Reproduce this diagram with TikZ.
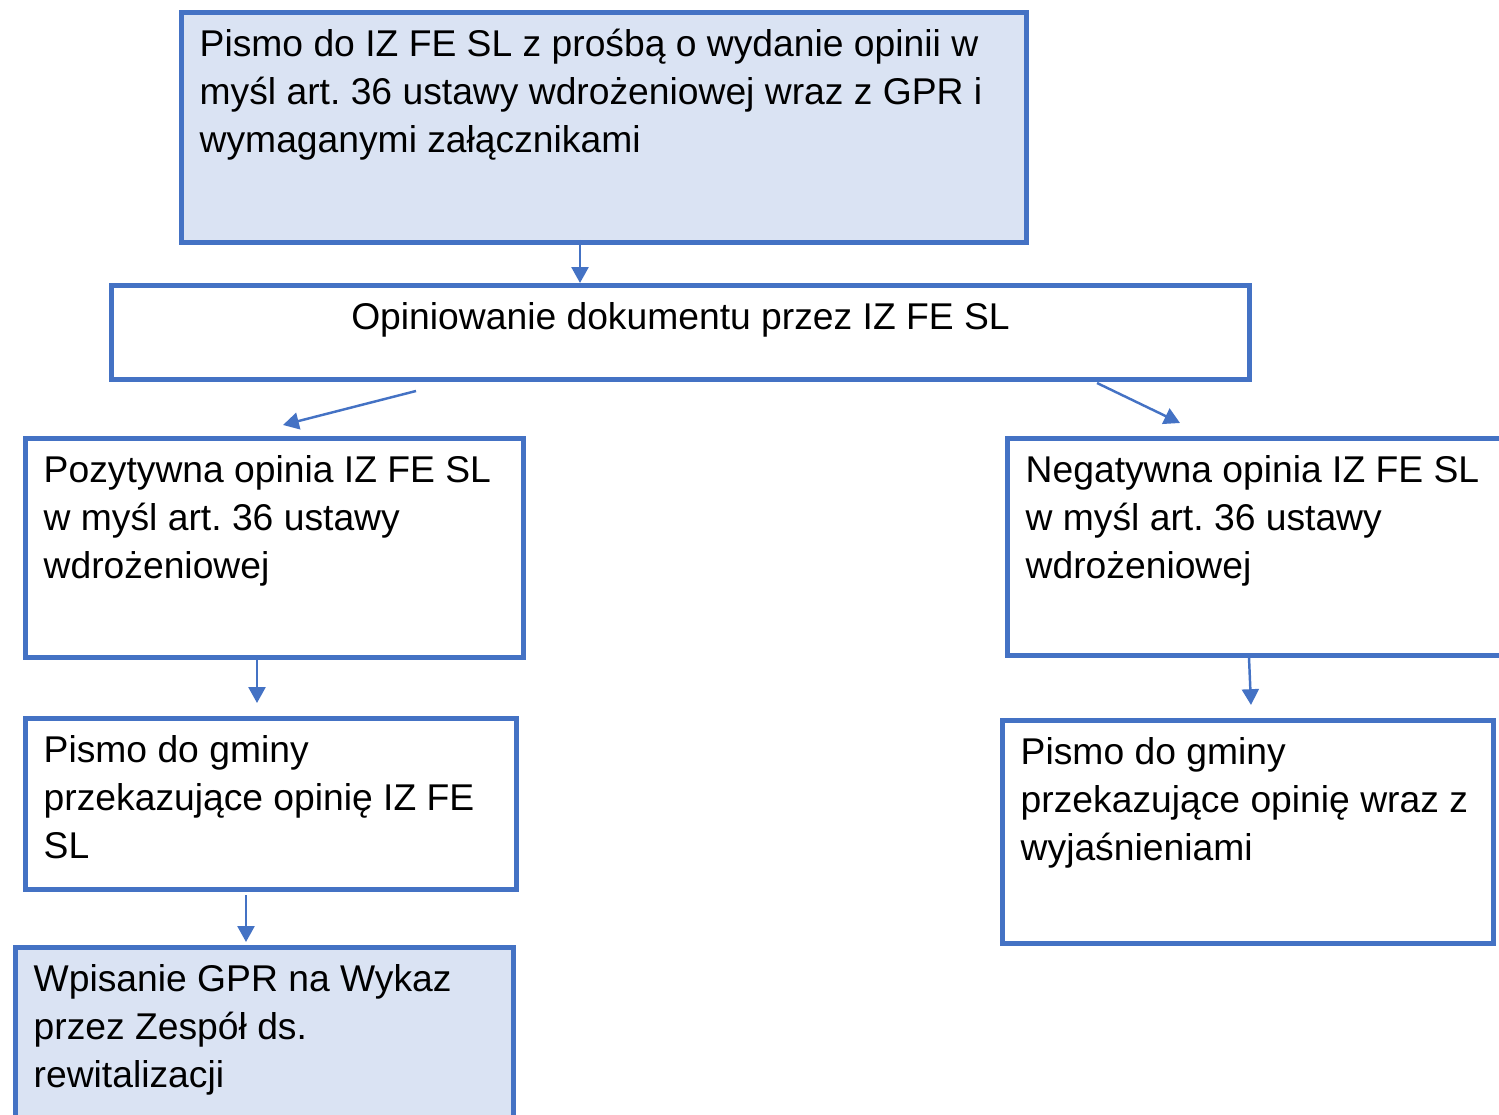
\documentclass[tikz,border=0pt]{standalone}
\usepackage{fontspec}
\setmainfont{Liberation Sans}
\usetikzlibrary{positioning,arrows.meta}
\definecolor{ramka}{HTML}{4472C4}
\definecolor{tlo}{HTML}{DAE3F3}
\frenchspacing

\begin{document}
\begin{tikzpicture}[
	box/.style={draw=ramka, line width=0.05cm, inner sep=0, anchor=north west},
	tekst/.style={inner sep=0, align=left, font=\fontsize{10.6pt}{13.66pt}\selectfont},
	strz/.style={draw=ramka, line width=0.7pt, -{Triangle[length=4.5pt,width=4.8pt]}}]
	\useasboundingbox (0,0) rectangle (14.99,-11.15);
	\clip (0,0) rectangle (14.99,-11.15);
	% prostokaty
	\node[box, fill=tlo, minimum width=8.45cm, minimum height=2.30cm] (wniosek) at (1.79,-0.10) {};
	\node[box, minimum width=11.38cm, minimum height=0.94cm] (opiniowanie) at (1.09,-2.83) {};
	\node[box, minimum width=4.98cm, minimum height=2.19cm] (pozytywna) at (0.23,-4.36) {};
	\node[box, minimum width=5.10cm, minimum height=2.17cm] (negatywna) at (10.05,-4.36) {};
	\node[box, minimum width=4.91cm, minimum height=1.71cm] (pismoL) at (0.23,-7.16) {};
	\node[box, minimum width=4.91cm, minimum height=2.23cm] (pismoP) at (10.00,-7.18) {};
	\node[box, fill=tlo, minimum width=4.98cm, minimum height=2.20cm] (wykaz) at (0.13,-9.45) {};
	% teksty
	\node[tekst, below right=0.125cm and 0.20cm of wniosek.north west] (wniosekT)
		{\strut Pismo do IZ FE SL z prośbą o wydanie opinii w\\myśl art. 36 ustawy wdrożeniowej wraz z GPR i\\wymaganymi załącznikami};
	\node[tekst, below=0.125cm of opiniowanie.north] (opiniowanieT)
		{\strut Opiniowanie dokumentu przez IZ FE SL};
	\node[tekst, below right=0.125cm and 0.20cm of pozytywna.north west] (pozytywnaT)
		{\strut Pozytywna opinia IZ FE SL\\w myśl art. 36 ustawy\\wdrożeniowej};
	\node[tekst, below right=0.125cm and 0.20cm of negatywna.north west] (negatywnaT)
		{\strut Negatywna opinia IZ FE SL\\w myśl art. 36 ustawy\\wdrożeniowej};
	\node[tekst, below right=0.125cm and 0.20cm of pismoL.north west] (pismoLT)
		{\strut Pismo do gminy\\przekazujące opinię IZ FE\\SL};
	\node[tekst, below right=0.125cm and 0.20cm of pismoP.north west] (pismoPT)
		{\strut Pismo do gminy\\przekazujące opinię wraz z\\wyjaśnieniami};
	\node[tekst, below right=0.125cm and 0.20cm of wykaz.north west] (wykazT)
		{\strut Wpisanie GPR na Wykaz\\przez Zespół ds.\\rewitalizacji};
	% strzalki
	\draw[strz] ([xshift=-0.24cm,yshift=0.05cm]wniosek.south) -- ([xshift=-0.24cm]wniosek.south |- opiniowanie.north);
	\draw[strz] ([xshift=3.07cm,yshift=-0.09cm]opiniowanie.south west) -- ([xshift=2.60cm,yshift=0.11cm]pozytywna.north west);
	\draw[strz] ([xshift=-1.55cm,yshift=-0.01cm]opiniowanie.south east) -- ([xshift=1.75cm,yshift=0.13cm]negatywna.north west);
	\draw[strz] ([xshift=-0.175cm]pozytywna.south) -- ([xshift=-0.175cm,yshift=0.13cm]pozytywna.south |- pismoL.north);
	\draw[strz] ([xshift=2.44cm]negatywna.south west) -- ([xshift=2.51cm,yshift=0.13cm]pismoP.north west);
	\draw[strz] ([xshift=-0.25cm,yshift=-0.03cm]pismoL.south) -- ([xshift=-0.25cm,yshift=0.03cm]pismoL.south |- wykaz.north);
\end{tikzpicture}
\end{document}
